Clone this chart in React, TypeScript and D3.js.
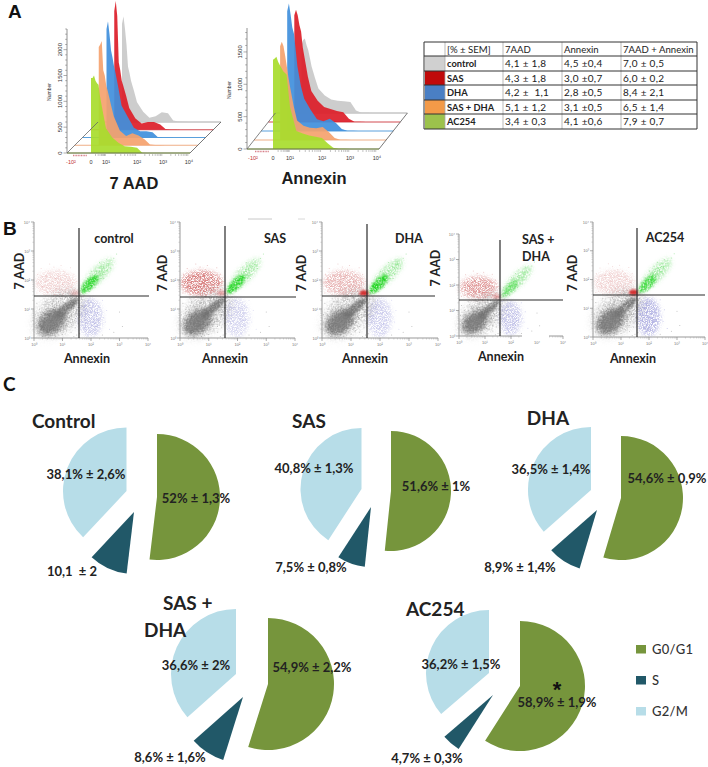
import React from "react";
import * as d3 from "d3";

// ---------- Panel A data ----------
const histBins = [0, .1, .2, .3, .4, .5, .6, .8, 1, 1.2, 1.4, 1.6, 1.8, 2, 2.2, 2.4, 2.6, 2.8, 3];
const histColors = ["#a8dc2c", "#f5a26c", "#3f8fdc", "#dc2028", "#c9c9c9"];
const histLineColors = ["#a8cc50", "#efae86", "#5aa0dc", "#d24a50", "#a8a8a8"];
const aadGreen = [1450, 1450, 1500, 1400, 1350, 1320, 1100, 780, 480, 300, 200, 130, 120, 100, 5, 2, 0, 0, 0];
const aadOrange = [1900, 1950, 2020, 1450, 1350, 1150, 1050, 800, 560, 280, 180, 230, 190, 110, 15, 5, 3, 2, 0];
const aadBlue = [2100, 2250, 2000, 1690, 1550, 1380, 1250, 950, 620, 400, 190, 120, 120, 100, 10, 5, 3, 2, 0];
const aadRed = [2300, 2490, 2200, 1300, 1150, 950, 850, 650, 420, 220, 120, 150, 150, 100, 15, 5, 3, 2, 0];
const aadGrey = [1900, 2040, 1800, 1500, 1070, 950, 800, 600, 380, 200, 80, 110, 190, 170, 30, 8, 3, 2, 0];
const annGreen = [1380, 1400, 1425, 1350, 1300, 1250, 1200, 1150, 650, 280, 240, 210, 190, 170, 90, 20, 5, 2, 0];
const annOrange = [1450, 1520, 1450, 1300, 1130, 950, 800, 520, 300, 220, 190, 180, 200, 120, 30, 5, 3, 0, 0];
const annBlue = [1850, 1970, 1800, 1600, 1500, 1250, 1000, 700, 500, 330, 180, 150, 190, 120, 30, 5, 2, 0, 0];
const annRed = [1650, 1735, 1650, 1500, 1400, 1150, 1000, 700, 480, 330, 230, 200, 170, 150, 50, 5, 2, 0, 0];
const annGrey = [1050, 1130, 1150, 1050, 975, 850, 720, 540, 380, 270, 210, 190, 180, 170, 40, 5, 2, 0, 0];
const aadSeries = [aadGreen, aadOrange, aadBlue, aadRed, aadGrey];
const annSeries = [annGreen, annOrange, annBlue, annRed, annGrey];
const aadYTicks = [0, 500, 1000, 1500, 2000];
const annYTicks = [0, 500, 1000, 1500];
const xDecades = [-1, 0, 1, 2, 3, 4];
const xTickLabels = ["-10²", "0", "10¹", "10²", "10³", "10⁴"];
const logMinor = [2, 3, 4, 5, 6, 7, 8, 9];

// ---------- Table data ----------
const tableHeader = ["[% ± SEM]", "7AAD", "Annexin", "7AAD + Annexin"];
const tableGroups = ["control", "SAS", "DHA", "SAS + DHA", "AC254"];
const tableSwatches = ["#d0d0d0", "#c00a0a", "#4a7fc4", "#f39a48", "#9cc24c"];
const table7aad = ["4,1 ± 1,8", "4,3 ± 1,8", "4,2 ±  1,1", "5,1 ± 1,2", "3,4 ± 0,3"];
const tableAnnexin = ["4,5 ±0,4", "3,0 ±0,7", "2,8 ±0,5", "3,1 ±0,5", "4,1 ±0,6"];
const tableBoth = ["7,0 ± 0,5", "6,0 ± 0,2", "8,4 ± 2,1", "6,5 ± 1,4", "7,9 ± 0,7"];

// ---------- Panel B data (log decades) ----------
const redPts = [[.2, 1.6], [.3, 2.1], [.45, 1.75], [.5, 2.3], [.6, 1.55], [.65, 1.95], [.7, 2.45], [.8, 1.7], [.85, 2.15], [.9, 1.5], [1, 1.85], [1.05, 2.3], [1.1, 1.6], [1.2, 2], [1.25, 1.52], [1.3, 1.75], [1.4, 2.2], [1.45, 1.55], [.15, 1.9], [.35, 1.5], [.55, 2.55], [.75, 2.05], [.95, 2.5], [1.15, 2.2], [1.35, 1.9], [.1, 1.55], [.25, 2.4], [.4, 1.95], [.7, 1.62], [.82, 1.9], [1, 2.1], [1.15, 1.72], [1.5, 1.95], [.6, 2.2], [.48, 1.58], [.9, 1.72], [1.08, 1.95], [.3, 1.78], [1.28, 2.42], [.78, 2.3], [.12, 2.2], [.62, 1.78], [.95, 2.0], [1.22, 1.62], [.42, 2.15], [1.42, 1.68], [.55, 1.88], [.72, 1.5], [1.02, 1.52], [.88, 2.35]];
const bluePts = [[1.65, .3], [1.7, .8], [1.72, 1.2], [1.8, .5], [1.85, 1], [1.9, .2], [1.95, .7], [2, 1.25], [2.05, .45], [2.1, .9], [2.15, .15], [2.2, .6], [2.25, 1.1], [2.3, .35], [2.35, .8], [2.4, 1.3], [2.5, .55], [2.55, .95], [2.65, .3], [1.68, .55], [1.75, 1.05], [1.82, .1], [1.9, .85], [1.98, .35], [2.02, 1.05], [2.08, .65], [2.18, .4], [2.22, .85], [2.32, 1.05], [2.45, .7], [1.66, 1.35], [1.78, .68], [1.92, 1.3], [2.12, .5], [2.28, .62]];
const greenPts = [[1.7, 1.55], [1.75, 1.7], [1.8, 1.6], [1.85, 1.85], [1.9, 1.65], [1.95, 1.95], [2, 1.75], [2.05, 2.1], [2.1, 1.85], [2.15, 2.2], [2.2, 2], [2.3, 2.3], [2.35, 2.05], [2.45, 2.45], [2.5, 2.2], [2.6, 2.55], [2.7, 2.4], [2.8, 2.75], [1.65, 1.5], [1.72, 1.9], [1.88, 2.05], [2.02, 2.3], [2.18, 2.45], [2.3, 2.6], [2.45, 2.05], [2.55, 2.7], [1.95, 1.6], [2.15, 1.75], [2.25, 1.9], [2.9, 2.9]];
const greyPts = [[.1, .15], [.2, 1], [.3, .05], [.4, 1.25], [.55, 1.15], [.7, 1.35], [.85, .1], [1, .12], [1.15, .25], [1.3, .2], [1.45, .35], [1.5, .1], [.15, .5], [1.2, .55], [1.45, .8], [.35, 1.35], [.9, 1.42], [1.1, 1.4], [1.3, .4], [1.55, .5], [1.6, .15], [.05, .8], [.1, 1.2], [1.4, .05], [.75, .05], [1.05, .3], [1.25, .7], [1.35, 1.4], [1.55, 1.05], [2.8, .2], [3.1, .4], [2.4, .1], [3, .9], [1.5, 1.4], [.5, .02]];
const panelNames = ["control", "SAS", "DHA", "SAS +", "AC254"];
const panelLeft = [34, 180, 322, 459, 593];
const panelRight = [148, 295, 438, 563, 705];
const panelTop = [222, 222, 222, 234, 222];
const panelBottom = [338, 338, 338, 336, 337];
const panelVLine = [79, 225, 367, 500, 637];
const panelVTop = [228, 226, 224, 240, 228];
const panelHLine = [296, 297, 296, 300, 295];
const panelHRight = [149, 296, 435, 563, 705];
const panelRed = [.3, .5, .4, .45, .3];
const panelRedBlob = [.28, .9, .5, .7, .28];
const panelGreenBlob = [.9, .95, 1, .55, .8];
const panelJunction = [.2, .3, .9, .3, .9];
const panelBlue = [.24, .18, .2, .24, .32];
const tickDecades = [0, 1, 2, 3, 4];
const tickNames = ["10⁰", "10¹", "10²", "10³", "10⁴"];

// ---------- Panel C data ----------
const cycleNames = ["G0/G1", "S", "G2/M"];
const cycleColors = ["#76953c", "#215868", "#b7dde8"];
const pieTitles = ["Control", "SAS", "DHA", "SAS + DHA", "AC254"];
const g0Values = [52, 51.6, 54.6, 54.9, 58.9];
const sValues = [10.1, 7.5, 8.9, 8.6, 4.7];
const g2Values = [38.1, 40.8, 36.5, 36.6, 36.2];
const g0Labels = ["52% ± 1,3%", "51,6% ± 1%", "54,6% ± 0,9%", "54,9% ± 2,2%", "58,9% ± 1,9%"];
const sLabels = ["10,1  ± 2", "7,5% ± 0,8%", "8,9% ± 1,4%", "8,6% ± 1,6%", "4,7% ± 0,3%"];
const g2Labels = ["38,1% ± 2,6%", "40,8% ± 1,3%", "36,5% ± 1,4%", "36,6% ± 2%", "36,2% ± 1,5%"];
// layout of each exploded slice: centre x, centre y, radius
const g0Layout = [[157, 497, 63], [391, 491, 60], [621, 498, 62], [268, 684, 66], [520, 686, 65]];
const sLayout = [[134, 512, 62], [371, 507, 60], [597, 510, 61], [243, 697, 66], [493, 695, 64]];
const g2Layout = [[126.5, 491, 63.5], [361.5, 489, 61], [591, 490, 63], [236, 674, 65], [489, 673, 63]];
const g0LabelPos = [[196, 503], [436, 491], [667, 483], [312, 672], [557, 707]];
const sLabelPos = [[72, 576], [311, 572], [520, 572], [170, 762], [427, 763]];
const g2LabelPos = [[86, 479], [314, 473], [551, 474], [196, 670], [461, 669]];

const lato = "Lato, 'Open Sans', sans-serif";
const arial = "'Liberation Sans', Arial, sans-serif";
const ink = "#222";

function Histogram({ series, x0, xRange, yBase, yTop, yMax, yTicks, stepX, stepY, floorRight, title, titleX, titleY, numberY }: any) {
  const x = d3.scaleLinear().domain(xDecades).range(xRange);
  const y = d3.scaleLinear().domain([0, yMax]).range([yBase, yTop]);
  const frontLeft = x0;
  const order = [4, 3, 2, 1, 0];
  const minor: number[] = [];
  [0, 1, 2, 3].forEach((d) => logMinor.forEach((m) => minor.push(d + Math.log10(m))));
  const yMinor = d3.range(0, yMax + 1, 100);
  return (
    <g>
      {order.map((i) => {
        const dx = i * stepX, dy = i * stepY;
        const area = d3.area<number>()
          .x((_, k) => x(histBins[k]) + dx)
          .y0(yBase - dy)
          .y1((v) => y(v) - dy);
        return (
          <g key={i}>
            <line x1={frontLeft + dx} x2={floorRight + dx} y1={yBase - dy} y2={yBase - dy} stroke={histLineColors[i]} strokeWidth={1} />
            <path d={area(series[i]) as string} fill={histColors[i]} fillOpacity={0.92} filter="url(#soft)" />
          </g>
        );
      })}
      <path d={`M${frontLeft},${yBase}L${frontLeft + 4 * stepX},${yBase - 4 * stepY}`} stroke="#666" fill="none" strokeWidth={0.8} />
      <path d={`M${frontLeft},${yBase}L${floorRight},${yBase}L${floorRight + 4 * stepX},${yBase - 4 * stepY}`} stroke="#555" fill="none" strokeWidth={0.8} />
      <line x1={frontLeft} x2={frontLeft} y1={yBase} y2={yTop} stroke="#777" strokeWidth={0.8} />
      {yMinor.map((t) => (
        <line key={t} x1={frontLeft - (t % 500 === 0 ? 3.5 : 1.8)} x2={frontLeft} y1={y(t)} y2={y(t)} stroke="#777" strokeWidth={0.6} />
      ))}
      {yTicks.map((t: number) => (
        <text key={t} transform={`translate(${frontLeft - 5},${y(t)}) rotate(-90)`} textAnchor="middle" fontFamily={arial} fontSize={6} fill="#333">{t}</text>
      ))}
      <text transform={`translate(${frontLeft - 16},${numberY}) rotate(-90)`} textAnchor="middle" fontFamily={arial} fontSize={5} fill="#333">Number</text>
      <line x1={x(-1) + 2} x2={x(0) - 4} y1={yBase + 2.5} y2={yBase + 2.5} stroke="#d8808a" strokeWidth={1.3} strokeDasharray="1 .6" />
      {minor.map((m, k) => (
        <line key={k} x1={x(m)} x2={x(m)} y1={yBase + 1} y2={yBase + 3} stroke="#888" strokeWidth={0.5} />
      ))}
      {xDecades.map((d, k) => (
        <text key={d} x={x(d)} y={yBase + 11} textAnchor="middle" fontFamily={arial} fontSize={5.5} fill={d < 0 ? "#c03030" : "#333"}>{xTickLabels[k]}</text>
      ))}
      <text x={titleX} y={titleY} textAnchor="middle" fontFamily={arial} fontWeight={700} fontSize={16.5} fill="#1c1c1c">{title}</text>
    </g>
  );
}

function DataTable() {
  const cols = [424, 445, 503, 562, 621, 697];
  const rows = [42, 56, 71, 85, 100, 114, 129];
  const cells = [table7aad, tableAnnexin, tableBoth];
  return (
    <g fontFamily={lato} fontSize={10} fill={ink}>
      {tableSwatches.map((c, i) => (
        <rect key={c} x={cols[0] + 1} y={rows[i + 1]} width={cols[1] - cols[0] - 1} height={rows[i + 2] - rows[i + 1]} fill={c} />
      ))}
      {cols.map((x, i) => (
        <line key={x} x1={x} x2={x} y1={rows[0]} y2={rows[6]} stroke={i === 0 || i === 5 ? "#333" : "#aaa"} strokeWidth={i === 0 || i === 5 ? 1 : 0.8} />
      ))}
      {rows.map((y) => (
        <line key={y} x1={cols[0]} x2={cols[5]} y1={y} y2={y} stroke="#333" strokeWidth={1} />
      ))}
      {tableHeader.map((h, i) => (
        <text key={h} x={cols[i + 1] + 2} y={rows[0] + 10.5} fontSize={9.6}>{h}</text>
      ))}
      {tableGroups.map((g, i) => (
        <text key={g} x={cols[1] + 2} y={rows[i + 1] + 11} fontWeight={700} fontSize={9.3}>{g}</text>
      ))}
      {cells.map((col, c) => col.map((v, i) => (
        <text key={c + "-" + i} x={cols[c + 2] + 2} y={rows[i + 1] + 11} letterSpacing={0.3} xmlSpace="preserve">{v}</text>
      )))}
    </g>
  );
}

function Scatter({ i }: { i: number }) {
  const x = d3.scaleLinear().domain([0, 4]).range([panelLeft[i], panelRight[i]]);
  const y = d3.scaleLinear().domain([0, 4]).range([panelBottom[i], panelTop[i]]);
  const ux = (panelRight[i] - panelLeft[i]) / 4;
  const uy = (panelBottom[i] - panelTop[i]) / 4;
  const blob = (cx: number, cy: number, rx: number, ry: number, angle: number, fill: string, op: number, flt: string) => (
    <ellipse cx={x(cx)} cy={y(cy)} rx={rx * ux} ry={ry * uy} fill={fill} fillOpacity={op} filter={`url(#${flt})`}
      transform={`rotate(${angle} ${x(cx)} ${y(cy)})`} />
  );
  const minor: number[] = [];
  [0, 1, 2, 3].forEach((d) => logMinor.forEach((m) => minor.push(d + Math.log10(m))));
  const dots = (pts: number[][], fill: string, op: number) =>
    pts.map((p, k) => (
      <circle key={k} cx={x(p[0])} cy={y(p[1])} r={0.5} fill={fill} fillOpacity={op} />
    ));
  return (
    <g>
      {blob(.9, .85, 1.05, .62, -40, "#8a8a8a", .7, "grain3")}
      {blob(.62, .55, .56, .38, -40, "#707070", 1, "grain2")}
      {blob(.62, .55, .5, .32, -40, "#7c7c7c", .8, "blur2")}
      {blob(1.05, .95, .6, .16, -40, "#7a7a7a", .45, "blur1")}
      {blob(1.15, 1.05, .5, .14, -40, "#6d6d6d", .8, "grain1")}
      {dots(greyPts, "#888", .6)}
      {blob(.75, 1.9, .72, .42, 0, "#c84a4a", panelRedBlob[i] * .75, "grain2")}
      {dots(redPts, "#cf7070", panelRed[i])}
      {blob(1.45, 1.55, .16, .1, 0, "#d02020", panelJunction[i], "blur1")}
      {blob(1.98, .7, .42, .66, 0, "#7474cc", panelBlue[i] * 1.6, "grain2")}
      {dots(bluePts, "#8a8ad8", panelBlue[i] * 1.6)}
      {blob(2.25, 2.2, .72, .22, -45, "#55d855", .6, "grain2")}
      {blob(1.95, 1.85, .42, .17, -45, "#22d622", panelGreenBlob[i], "grain1")}
      {dots(greenPts, "#7ddc7d", .7)}
      <line x1={x(0)} x2={x(0)} y1={y(0)} y2={y(4)} stroke="#999" strokeWidth={1} />
      <line x1={x(0)} x2={x(4)} y1={y(0)} y2={y(0)} stroke="#999" strokeWidth={1} />
      {minor.map((m, k) => (
        <g key={k} stroke="#aaa" strokeWidth={0.5}>
          <line x1={x(m)} x2={x(m)} y1={y(0)} y2={y(0) + 1.5} />
          <line x1={x(0) - 1.5} x2={x(0)} y1={y(m)} y2={y(m)} />
        </g>
      ))}
      {tickDecades.map((d, k) => (
        <g key={d} fontFamily={arial} fontSize={4} fill="#777">
          <line x1={x(d)} x2={x(d)} y1={y(0)} y2={y(0) + 3} stroke="#888" strokeWidth={0.7} />
          <line x1={x(0) - 3} x2={x(0)} y1={y(d)} y2={y(d)} stroke="#888" strokeWidth={0.7} />
          <text x={x(d)} y={y(0) + 8} textAnchor="middle">{tickNames[k]}</text>
          <text x={x(0) - 4} y={y(d) + 1.5} textAnchor="end">{tickNames[k]}</text>
        </g>
      ))}
      <line x1={panelVLine[i]} x2={panelVLine[i]} y1={panelVTop[i]} y2={panelBottom[i]} stroke="#2a2a2a" strokeWidth={1.2} />
      <line x1={panelLeft[i]} x2={panelHRight[i]} y1={panelHLine[i]} y2={panelHLine[i]} stroke="#2a2a2a" strokeWidth={1.2} />
    </g>
  );
}

function Pie({ i }: { i: number }) {
  const slices = d3.pie<number>().sort(null)([g0Values[i], sValues[i], g2Values[i]]);
  const layouts = [g0Layout[i], sLayout[i], g2Layout[i]];
  return (
    <g>
      {slices.map((s, k) => {
        const [cx, cy, r] = layouts[k];
        const arc = d3.arc<any>().innerRadius(0).outerRadius(r);
        return <path key={k} d={arc(s) as string} transform={`translate(${cx},${cy})`} fill={cycleColors[k]} />;
      })}
      <g fontFamily={lato} fontWeight={700} fontSize={13} fill="#222" textAnchor="middle">
        <text x={g0LabelPos[i][0]} y={g0LabelPos[i][1]} xmlSpace="preserve">{g0Labels[i]}</text>
        <text x={sLabelPos[i][0]} y={sLabelPos[i][1]} xmlSpace="preserve">{sLabels[i]}</text>
        <text x={g2LabelPos[i][0]} y={g2LabelPos[i][1]} xmlSpace="preserve">{g2Labels[i]}</text>
      </g>
    </g>
  );
}

function grainFilter(id: string, blur: number, k: number, t: number, seed: number) {
  return (
    <filter id={id} x="-60%" y="-60%" width="220%" height="220%" colorInterpolationFilters="sRGB">
      <feGaussianBlur in="SourceGraphic" stdDeviation={blur} result="b" />
      <feTurbulence type="fractalNoise" baseFrequency="1.2" numOctaves={2} seed={seed} result="n" />
      <feColorMatrix in="n" type="matrix" values={`0 0 0 0 0  0 0 0 0 0  0 0 0 0 0  ${k} 0 0 0 ${t}`} result="m" />
      <feComposite in="b" in2="m" operator="in" />
    </filter>
  );
}

export default function App() {
  const bold = { fontFamily: lato, fontWeight: 700, fill: "#222" } as const;
  const titleCenters = [114, 275, 409, 0, 665];
  const titleBase = [243, 243, 243, 0, 242];
  const aadX = [20, 163, 302, 436, 573];
  const aadY = [271, 273, 273, 268, 273];
  const annX = [87, 225, 365, 501, 633];
  const annY = [363, 363, 363, 361, 363];
  return (
    <svg width={708} height={767} viewBox="0 0 708 767" style={{ position: "absolute", left: 0, top: 0, display: "block", background: "#fff" }}>
      <defs>
        <filter id="soft" x="-5%" y="-5%" width="110%" height="110%"><feGaussianBlur stdDeviation="0.35" /></filter>
        <filter id="blur1" x="-50%" y="-50%" width="200%" height="200%"><feGaussianBlur stdDeviation="1" /></filter>
        <filter id="blur2" x="-50%" y="-50%" width="200%" height="200%"><feGaussianBlur stdDeviation="2.5" /></filter>
        {grainFilter("grain1", 1, 4, -1.2, 3)}
        {grainFilter("grain2", 2.5, 4, -1.4, 7)}
        {grainFilter("grain3", 4, 4, -1.6, 11)}
      </defs>

      {/* Panel letters */}
      <g fontFamily={arial} fontWeight={700} fontSize={19} fill="#111">
        <text x={8} y={17.5}>A</text>
        <text x={3} y={235}>B</text>
        <text x={3} y={391} fontFamily={lato}>C</text>
      </g>

      <Histogram series={aadSeries} x0={67} xRange={[71, 91, 106, 137, 163, 189]} yBase={153} yTop={29} yMax={2400}
        yTicks={aadYTicks} stepX={7.75} stepY={7.75} floorRight={190} title="7 AAD" titleX={134} titleY={189} numberY={92} />
      <Histogram series={annSeries} x0={247} xRange={[253, 273, 290, 322, 350, 377]} yBase={149} yTop={28} yMax={1870}
        yTicks={annYTicks} stepX={7.1} stepY={9} floorRight={379} title="Annexin" titleX={314} titleY={184} numberY={90} />

      <DataTable />

      {/* Panel B */}
      {panelNames.map((_, i) => <Scatter key={i} i={i} />)}
      <rect x={522} y={332} width={27} height={9} fill="#fff" />
      <line x1={248} x2={272} y1={219} y2={219} stroke="#c8c8c8" strokeWidth={1} />
      <line x1={298} x2={305} y1={219} y2={219} stroke="#d8d8d8" strokeWidth={1} />
      <g {...bold} fontSize={12.5}>
        {titleCenters.map((x, i) => x > 0 && (
          <text key={i} x={x} y={titleBase[i]} textAnchor="middle">{panelNames[i]}</text>
        ))}
        <text x={522} y={244}>SAS +</text>
        <text x={522} y={261}>DHA</text>
        {aadX.map((x, i) => (
          <text key={i} transform={`translate(${x + 4},${aadY[i]}) rotate(-90)`} textAnchor="middle">7 AAD</text>
        ))}
        {annX.map((x, i) => (
          <text key={i} x={x} y={annY[i]} textAnchor="middle">Annexin</text>
        ))}
      </g>

      {/* Panel C */}
      {pieTitles.map((_, i) => <Pie key={i} i={i} />)}
      <g {...bold} fontSize={19}>
        <text x={32} y={428}>{pieTitles[0]}</text>
        <text x={309} y={428} textAnchor="middle">{pieTitles[1]}</text>
        <text x={548} y={425} textAnchor="middle">{pieTitles[2]}</text>
        <text x={163} y={610}>SAS +</text>
        <text x={144} y={637}>DHA</text>
        <text x={406} y={616}>{pieTitles[4]}</text>
      </g>
      <text x={557} y={697} textAnchor="middle" fontFamily={arial} fontWeight={700} fontSize={22} fill="#111">*</text>
      {cycleNames.map((n, i) => (
        <g key={n}>
          <rect x={636} y={645 + i * 31} width={10} height={8.5} fill={cycleColors[i]} />
          <text x={652} y={654 + i * 31} fontFamily={lato} fontWeight={500} fontSize={13} letterSpacing={0.3} fill="#333">{n}</text>
        </g>
      ))}
    </svg>
  );
}
